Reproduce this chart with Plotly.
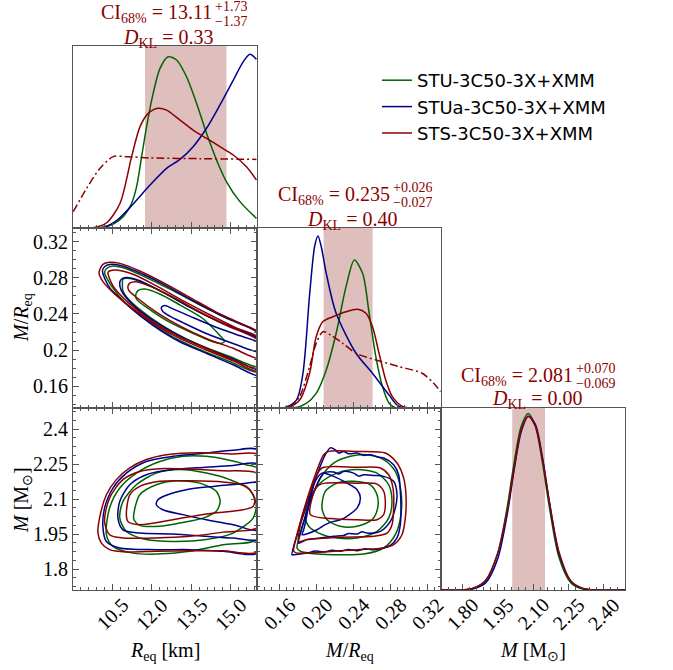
import plotly.graph_objects as go

W, H = 673, 670
SERIF = "Liberation Serif"
SANS = "DejaVu Sans"
C_STU = "#006400"
C_STUA = "#00008b"
C_STS = "#8b0000"
BAND = "#dfbebe"
AXC = "#555555"

NAMES = ["STU-3C50-3X+XMM", "STUa-3C50-3X+XMM", "STS-3C50-3X+XMM"]

# axis ranges and ticks
R_RANGE = [9.0, 16.0]
MR_RANGE = [0.136, 0.335]
M_RANGE = [1.71, 2.49]
R_TICKS = [10.5, 12.0, 13.5, 15.0]
R_TICKTEXT = ["10.5", "12.0", "13.5", "15.0"]
MR_TICKS = [0.16, 0.20, 0.24, 0.28, 0.32]
MR_TICKTEXT = ["0.16", "0.20", "0.24", "0.28", "0.32"]
MR_YTICKTEXT = ["0.16", "0.2", "0.24", "0.28", "0.32"]
M_TICKS = [1.80, 1.95, 2.10, 2.25, 2.40]
M_TICKTEXT = ["1.80", "1.95", "2.10", "2.25", "2.40"]
M_YTICKTEXT = ["1.8", "1.95", "2.1", "2.25", "2.4"]

# credible intervals (median, +, -) and KL divergences
CI_R = (13.11, 1.73, 1.37)
CI_MR = (0.235, 0.026, 0.027)
CI_M = (2.081, 0.070, 0.069)
DKL = [0.33, 0.40, 0.00]

# ---- 1D marginal: R_eq ----
R_STU_X = [9.0, 10.03, 10.53, 10.91, 11.23, 11.42, 11.61, 11.80, 12.05, 12.31, 12.62, 12.94, 13.32, 13.70, 14.08, 14.46, 14.84, 15.35, 15.98]
R_STU_Y = [0.0, 0.002, 0.022, 0.062, 0.136, 0.227, 0.392, 0.557, 0.740, 0.877, 0.941, 0.923, 0.831, 0.685, 0.520, 0.374, 0.254, 0.145, 0.053]
R_STUA_X = [9.0, 10.15, 10.66, 11.29, 11.93, 12.56, 13.07, 13.57, 14.08, 14.59, 15.10, 15.48, 15.73, 15.98]
R_STUA_Y = [0.0, 0.002, 0.040, 0.132, 0.236, 0.328, 0.377, 0.447, 0.548, 0.676, 0.813, 0.914, 0.954, 0.927]
R_STS_X = [9.0, 9.77, 10.28, 10.79, 11.23, 11.55, 11.86, 12.24, 12.56, 13.07, 13.57, 14.08, 14.59, 15.10, 15.60, 15.98]
R_STS_Y = [0.0, 0.002, 0.029, 0.136, 0.392, 0.557, 0.630, 0.658, 0.648, 0.593, 0.538, 0.493, 0.447, 0.401, 0.337, 0.264]
R_PRIOR_X = [9.01, 9.52, 10.03, 10.53, 11.04, 11.93, 13.83, 15.98]
R_PRIOR_Y = [0.090, 0.218, 0.328, 0.392, 0.392, 0.385, 0.381, 0.377]

# ---- 1D marginal: M/R_eq ----
MR_STU_X = [0.136, 0.175, 0.1893, 0.200, 0.2109, 0.2216, 0.2323, 0.2413, 0.2502, 0.2573, 0.2645, 0.2717, 0.2789, 0.286, 0.335]
MR_STU_Y = [0.0, 0.0, 0.026, 0.081, 0.211, 0.415, 0.674, 0.822, 0.748, 0.526, 0.285, 0.119, 0.026, 0.0, 0.0]
MR_STUA_X = [0.136, 0.1643, 0.1786, 0.1857, 0.1929, 0.1983, 0.2019, 0.2055, 0.2109, 0.2216, 0.2431, 0.2609, 0.2789, 0.2896, 0.335]
MR_STUA_Y = [0.0, 0.0, 0.044, 0.193, 0.630, 0.896, 0.956, 0.896, 0.748, 0.526, 0.304, 0.193, 0.072, 0.009, 0.0]
MR_STS_X = [0.136, 0.1679, 0.1821, 0.1929, 0.200, 0.2073, 0.218, 0.2323, 0.2448, 0.2538, 0.2609, 0.268, 0.2752, 0.2824, 0.2932, 0.3003, 0.335]
MR_STS_Y = [0.0, 0.0, 0.044, 0.193, 0.396, 0.480, 0.507, 0.535, 0.548, 0.526, 0.452, 0.304, 0.156, 0.063, 0.009, 0.0, 0.0]
MR_PRIOR_X = [0.1714, 0.1821, 0.1929, 0.200, 0.2073, 0.2162, 0.2288, 0.2431, 0.2645, 0.2896, 0.3146, 0.3271, 0.3344]
MR_PRIOR_Y = [0.0, 0.063, 0.230, 0.359, 0.424, 0.404, 0.359, 0.304, 0.267, 0.230, 0.193, 0.137, 0.091]

# ---- 1D marginal: M ----
M_X = [1.71, 1.80, 1.85, 1.90, 1.95, 1.99, 2.02, 2.05, 2.08, 2.11, 2.14, 2.17, 2.21, 2.26, 2.31, 2.36, 2.49]
M_STU_Y = [0.0, 0.0, 0.010, 0.050, 0.200, 0.450, 0.700, 0.900, 0.970, 0.900, 0.700, 0.450, 0.180, 0.040, 0.005, 0.0, 0.0]
M_STUA_Y = [0.0, 0.0, 0.008, 0.040, 0.170, 0.410, 0.660, 0.870, 0.955, 0.910, 0.730, 0.480, 0.200, 0.050, 0.008, 0.0, 0.0]
M_STS_Y = [0.0, 0.0, 0.012, 0.055, 0.200, 0.430, 0.670, 0.880, 0.955, 0.900, 0.720, 0.480, 0.210, 0.050, 0.010, 0.0, 0.0]

# ---- 2D contours: R_eq vs M/R_eq (three levels each) ----
RMR_STU = [
    ([10.20, 10.27, 10.52, 11.03, 11.79, 12.80, 13.82, 14.83, 16.10, 16.10, 14.96, 13.95, 12.80, 11.92, 11.03, 10.46, 10.20],
     [0.2857, 0.2900, 0.2930, 0.2900, 0.2802, 0.2657, 0.2500, 0.2354, 0.2172, 0.1758, 0.1874, 0.1990, 0.2147, 0.2311, 0.2511, 0.2711, 0.2857]),
    ([10.88, 10.90, 11.16, 11.79, 12.68, 13.69, 14.71, 16.10, 16.10, 14.96, 13.82, 12.80, 11.92, 11.16, 10.90, 10.88],
     [0.2730, 0.2784, 0.2791, 0.2730, 0.2602, 0.2438, 0.2293, 0.2111, 0.1819, 0.1929, 0.2056, 0.2202, 0.2365, 0.2547, 0.2657, 0.2730]),
    ([11.38, 11.47, 11.73, 12.30, 13.06, 13.95, 14.58, 14.77, 14.64, 14.33, 13.44, 12.55, 11.79, 11.43, 11.38],
     [0.2602, 0.2657, 0.2675, 0.2620, 0.2500, 0.2347, 0.2165, 0.2100, 0.2074, 0.2092, 0.2202, 0.2329, 0.2475, 0.2558, 0.2602]),
]
RMR_STUA = [
    ([10.12, 10.20, 10.46, 10.90, 11.66, 12.55, 13.56, 14.58, 15.34, 16.10, 16.10, 15.09, 14.07, 13.06, 12.04, 11.16, 10.39, 10.12],
     [0.2875, 0.2922, 0.2948, 0.2930, 0.2839, 0.2711, 0.2547, 0.2391, 0.2293, 0.2172, 0.1721, 0.1838, 0.1965, 0.2092, 0.2274, 0.2475, 0.2693, 0.2875]),
    ([10.78, 10.84, 11.03, 11.54, 12.42, 13.44, 14.45, 15.34, 16.10, 16.10, 15.09, 14.07, 13.06, 12.04, 11.28, 10.84, 10.78],
     [0.2748, 0.2784, 0.2802, 0.2766, 0.2638, 0.2475, 0.2329, 0.2220, 0.2111, 0.1783, 0.1903, 0.2020, 0.2158, 0.2329, 0.2500, 0.2657, 0.2748]),
    ([12.36, 12.49, 12.80, 13.44, 14.33, 15.21, 16.10, 16.10, 15.09, 14.07, 13.18, 12.68, 12.42, 12.36],
     [0.2471, 0.2493, 0.2456, 0.2376, 0.2267, 0.2172, 0.2074, 0.1983, 0.2074, 0.2183, 0.2304, 0.2376, 0.2427, 0.2471]),
]
RMR_STS = [
    ([9.99, 10.14, 10.39, 10.78, 11.54, 12.42, 13.44, 14.45, 15.34, 16.10, 16.10, 15.09, 14.07, 13.06, 12.17, 11.28, 10.52, 10.12, 9.99],
     [0.2857, 0.2948, 0.2970, 0.2959, 0.2875, 0.2748, 0.2584, 0.2420, 0.2300, 0.2183, 0.1765, 0.1881, 0.2001, 0.2129, 0.2274, 0.2456, 0.2638, 0.2766, 0.2857]),
    ([10.33, 10.39, 10.65, 11.28, 12.17, 13.18, 14.20, 15.21, 16.10, 16.10, 15.09, 14.07, 13.06, 12.04, 11.16, 10.52, 10.33],
     [0.2857, 0.2875, 0.2886, 0.2839, 0.2711, 0.2547, 0.2391, 0.2245, 0.2129, 0.1801, 0.1892, 0.2020, 0.2147, 0.2311, 0.2511, 0.2711, 0.2857]),
    ([11.09, 11.16, 11.41, 12.04, 12.93, 13.95, 14.83, 16.10, 16.10, 15.09, 14.07, 13.06, 12.17, 11.41, 11.13, 11.09],
     [0.2704, 0.2740, 0.2755, 0.2693, 0.2566, 0.2402, 0.2274, 0.2092, 0.1910, 0.2020, 0.2129, 0.2267, 0.2420, 0.2584, 0.2657, 0.2704]),
]

# ---- 2D contours: R_eq vs M ----
RM_STU = [
    ([10.27, 10.39, 10.78, 11.41, 12.30, 13.18, 14.07, 14.83, 15.59, 16.10, 16.10, 14.71, 13.44, 12.17, 11.28, 10.52, 10.27],
     [1.947, 2.061, 2.147, 2.211, 2.261, 2.283, 2.283, 2.269, 2.247, 2.226, 1.933, 1.904, 1.876, 1.864, 1.868, 1.897, 1.947]),
    ([10.78, 10.90, 11.41, 12.17, 13.06, 14.07, 14.96, 15.72, 15.97, 15.85, 15.09, 14.07, 12.80, 11.79, 11.03, 10.78],
     [2.018, 2.090, 2.161, 2.211, 2.226, 2.211, 2.183, 2.140, 2.076, 2.018, 1.954, 1.926, 1.918, 1.926, 1.961, 2.018]),
    ([11.31, 11.54, 12.17, 12.93, 13.82, 14.45, 14.60, 14.45, 13.95, 13.06, 12.30, 11.54, 11.32, 11.31],
     [2.033, 2.118, 2.161, 2.178, 2.168, 2.133, 2.090, 2.047, 2.018, 1.997, 1.983, 1.987, 2.011, 2.033]),
]
RM_STUA = [
    ([10.14, 10.20, 10.52, 11.03, 11.79, 12.80, 14.07, 15.09, 16.10, 16.10, 14.71, 13.44, 12.17, 10.78, 10.27, 10.14],
     [1.976, 2.061, 2.147, 2.211, 2.261, 2.283, 2.297, 2.309, 2.307, 1.873, 1.876, 1.883, 1.883, 1.890, 1.918, 1.976]),
    ([10.71, 10.78, 11.16, 11.79, 12.80, 14.07, 15.09, 16.10, 16.10, 15.09, 14.07, 12.80, 11.54, 10.90, 10.71],
     [2.018, 2.090, 2.161, 2.204, 2.226, 2.236, 2.244, 2.247, 1.930, 1.933, 1.940, 1.950, 1.954, 1.968, 2.018]),
    ([12.17, 12.23, 12.55, 13.31, 14.33, 15.34, 16.10, 16.10, 15.09, 14.07, 13.18, 12.42, 12.17],
     [2.076, 2.097, 2.116, 2.140, 2.154, 2.164, 2.167, 1.968, 1.990, 2.011, 2.033, 2.054, 2.076]),
]
RM_STS = [
    ([9.95, 10.01, 10.27, 10.65, 11.16, 11.79, 12.55, 13.44, 14.33, 15.09, 16.10, 16.10, 14.71, 13.44, 12.17, 11.03, 10.39, 10.08, 9.95],
     [1.954, 2.018, 2.118, 2.183, 2.233, 2.269, 2.290, 2.297, 2.297, 2.293, 2.287, 1.878, 1.878, 1.878, 1.876, 1.873, 1.883, 1.911, 1.954]),
    ([10.20, 10.39, 10.90, 11.54, 12.30, 13.44, 14.71, 16.10, 16.10, 14.71, 13.44, 12.17, 10.90, 10.39, 10.20],
     [2.004, 2.104, 2.183, 2.218, 2.230, 2.228, 2.221, 2.204, 1.983, 1.958, 1.940, 1.933, 1.933, 1.947, 2.004]),
    ([11.03, 11.16, 11.54, 12.30, 13.44, 14.71, 15.59, 15.91, 15.85, 15.47, 14.07, 12.80, 11.54, 11.09, 11.03],
     [2.033, 2.118, 2.154, 2.176, 2.178, 2.173, 2.154, 2.104, 2.068, 2.054, 2.036, 2.011, 1.990, 2.004, 2.033]),
]

# ---- 2D contours: M/R_eq vs M ----
MRM_STU = [
    ([0.1793, 0.1847, 0.1937, 0.2045, 0.2189, 0.2369, 0.2550, 0.2730, 0.2856, 0.2917, 0.2917, 0.2856, 0.2730, 0.2514, 0.2261, 0.2009, 0.1829, 0.1793],
     [1.890, 1.976, 2.090, 2.190, 2.254, 2.283, 2.290, 2.269, 2.218, 2.133, 2.033, 1.947, 1.890, 1.864, 1.861, 1.864, 1.876, 1.890]),
    ([0.1883, 0.1937, 0.2045, 0.2225, 0.2442, 0.2658, 0.2784, 0.2820, 0.2784, 0.2658, 0.2442, 0.2225, 0.2027, 0.1919, 0.1883],
     [2.018, 2.104, 2.168, 2.211, 2.226, 2.211, 2.161, 2.090, 2.018, 1.961, 1.933, 1.933, 1.954, 1.983, 2.018]),
    ([0.2063, 0.2099, 0.2225, 0.2405, 0.2586, 0.2658, 0.2665, 0.2604, 0.2442, 0.2261, 0.2117, 0.2070, 0.2063],
     [2.076, 2.133, 2.168, 2.176, 2.161, 2.118, 2.061, 2.011, 1.983, 1.983, 2.011, 2.047, 2.076]),
]
MRM_STUA = [
    ([0.1739, 0.1793, 0.1901, 0.2009, 0.2099, 0.2153, 0.2207, 0.2243, 0.2297, 0.2351, 0.2442, 0.2514, 0.2586, 0.2658, 0.2730, 0.2838, 0.2892, 0.2910, 0.2917, 0.2910, 0.2874, 0.2802, 0.2622, 0.2532, 0.2442, 0.2351, 0.2261, 0.2171, 0.2081, 0.1991, 0.1901, 0.1757, 0.1739],
     [1.861, 1.947, 2.076, 2.204, 2.290, 2.319, 2.311, 2.297, 2.304, 2.294, 2.297, 2.287, 2.290, 2.281, 2.276, 2.247, 2.204, 2.133, 2.061, 1.990, 1.933, 1.901, 1.883, 1.887, 1.878, 1.884, 1.876, 1.880, 1.873, 1.877, 1.868, 1.861, 1.861]),
    ([0.1811, 0.1901, 0.2009, 0.2081, 0.2189, 0.2243, 0.2297, 0.2405, 0.2460, 0.2514, 0.2622, 0.2730, 0.2838, 0.2874, 0.2856, 0.2802, 0.2694, 0.2550, 0.2496, 0.2442, 0.2351, 0.2297, 0.2189, 0.2045, 0.1901, 0.1811],
     [1.911, 2.047, 2.161, 2.211, 2.216, 2.207, 2.218, 2.211, 2.198, 2.204, 2.201, 2.197, 2.176, 2.118, 2.061, 2.004, 1.961, 1.954, 1.960, 1.950, 1.952, 1.944, 1.940, 1.933, 1.926, 1.911]),
    ([0.2478, 0.2442, 0.2333, 0.2189, 0.2063, 0.1991, 0.1937, 0.1901, 0.1865, 0.1847, 0.2009, 0.2099, 0.2189, 0.2261, 0.2333, 0.2442, 0.2478],
     [2.104, 2.140, 2.168, 2.197, 2.211, 2.176, 2.104, 2.033, 1.968, 1.947, 1.968, 1.990, 2.004, 2.011, 2.026, 2.061, 2.104]),
]
MRM_STS = [
    ([0.1757, 0.1793, 0.1883, 0.1991, 0.2081, 0.2135, 0.2442, 0.2748, 0.2874, 0.2946, 0.2971, 0.2964, 0.2928, 0.2838, 0.2730, 0.2442, 0.2081, 0.1793, 0.1757],
     [1.876, 1.947, 2.076, 2.204, 2.290, 2.304, 2.304, 2.297, 2.254, 2.190, 2.118, 2.018, 1.947, 1.904, 1.890, 1.883, 1.873, 1.868, 1.876]),
    ([0.1811, 0.1829, 0.1901, 0.1991, 0.2063, 0.2442, 0.2694, 0.2784, 0.2831, 0.2838, 0.2820, 0.2766, 0.2622, 0.2261, 0.1901, 0.1811],
     [1.918, 1.990, 2.090, 2.190, 2.233, 2.236, 2.233, 2.204, 2.147, 2.061, 1.990, 1.954, 1.940, 1.936, 1.926, 1.918]),
    ([0.1937, 0.1955, 0.2009, 0.2099, 0.2442, 0.2658, 0.2730, 0.2748, 0.2730, 0.2658, 0.2442, 0.2153, 0.1937],
     [2.033, 2.104, 2.154, 2.168, 2.168, 2.164, 2.133, 2.076, 2.033, 2.011, 2.011, 2.016, 2.033]),
]


def px(x):
    return x / W


def py(y):
    return 1 - y / H


COLS = [[px(73), px(257)], [px(257), px(441)], [px(441), px(625)]]
ROWS = [[py(228), py(46)], [py(408), py(228)], [py(590), py(408)]]

fig = go.Figure()
LW = 1.5


def line(xs, ys, color, xa, ya, name=None, show=False, dash="solid"):
    fig.add_trace(go.Scatter(
        x=xs, y=ys, mode="lines", xaxis=xa, yaxis=ya,
        line=dict(color=color, width=LW, dash=dash, shape="spline", smoothing=0.8),
        name=name if name else "", showlegend=show, hoverinfo="skip"))


# 1D panels
line(R_STU_X, R_STU_Y, C_STU, "x", "y", NAMES[0], True)
line(R_STUA_X, R_STUA_Y, C_STUA, "x", "y", NAMES[1], True)
line(R_STS_X, R_STS_Y, C_STS, "x", "y", NAMES[2], True)
line(R_PRIOR_X, R_PRIOR_Y, C_STS, "x", "y", dash="8px,3px,2px,3px")

line(MR_STU_X, MR_STU_Y, C_STU, "x3", "y3")
line(MR_STUA_X, MR_STUA_Y, C_STUA, "x3", "y3")
line(MR_STS_X, MR_STS_Y, C_STS, "x3", "y3")
line(MR_PRIOR_X, MR_PRIOR_Y, C_STS, "x3", "y3", dash="8px,3px,2px,3px")

line(M_X, M_STU_Y, C_STU, "x6", "y6")
line(M_X, M_STUA_Y, C_STUA, "x6", "y6")
line(M_X, M_STS_Y, C_STS, "x6", "y6")

# 2D panels
for sets, xa, ya in [((RMR_STU, RMR_STUA, RMR_STS), "x2", "y2"),
                     ((RM_STU, RM_STUA, RM_STS), "x4", "y4"),
                     ((MRM_STU, MRM_STUA, MRM_STS), "x5", "y5")]:
    for levels, col in zip(sets, [C_STU, C_STUA, C_STS]):
        for xs, ys in levels:
            line(xs, ys, col, xa, ya)

# credible-interval bands
shapes = []
for ci, xa, ya in [(CI_R, "x", "y"), (CI_MR, "x3", "y3"), (CI_M, "x6", "y6")]:
    shapes.append(dict(type="rect", xref=xa, yref=ya + " domain", x0=ci[0] - ci[2], x1=ci[0] + ci[1],
                       y0=0, y1=1, fillcolor=BAND, line=dict(width=0), layer="below"))


def axis(dom, rng, anchor, tickvals=None, minor_dt=None, labels=None, mirror="allticks"):
    d = dict(domain=dom, range=rng, anchor=anchor, showline=True, linecolor=AXC, linewidth=1,
             mirror=mirror, showgrid=False, zeroline=False, fixedrange=True)
    if tickvals is not None:
        d.update(tickmode="array", tickvals=tickvals, ticks="inside", ticklen=6, tickcolor=AXC, tickwidth=1,
                 minor=dict(tickmode="linear", tick0=tickvals[0], dtick=minor_dt, ticks="inside",
                            ticklen=3, tickcolor=AXC, showgrid=False))
        if labels is not None:
            d.update(ticktext=labels, showticklabels=True,
                     tickfont=dict(family=SERIF, size=20, color="black"))
        else:
            d.update(showticklabels=False)
    else:
        d.update(ticks="", showticklabels=False)
    return d


layout_axes = dict(
    xaxis=axis(COLS[0], R_RANGE, "y", R_TICKS, 0.3, mirror=True),
    yaxis=axis(ROWS[0], [0, 1], "x", mirror=True),
    xaxis2=axis(COLS[0], R_RANGE, "y2", R_TICKS, 0.3),
    yaxis2=axis(ROWS[1], MR_RANGE, "x2", MR_TICKS, 0.01, MR_YTICKTEXT),
    xaxis3=axis(COLS[1], MR_RANGE, "y3", MR_TICKS, 0.008, mirror=True),
    yaxis3=axis(ROWS[1], [0, 1], "x3", mirror=True),
    xaxis4=axis(COLS[0], R_RANGE, "y4", R_TICKS, 0.3),
    yaxis4=axis(ROWS[2], M_RANGE, "x4", M_TICKS, 0.0375, M_YTICKTEXT),
    xaxis5=axis(COLS[1], MR_RANGE, "y5", MR_TICKS, 0.008),
    yaxis5=axis(ROWS[2], M_RANGE, "x5", M_TICKS, 0.0375),
    xaxis6=axis(COLS[2], M_RANGE, "y6", M_TICKS, 0.03, mirror=True),
    yaxis6=axis(ROWS[2], [0, 1], "x6", mirror=True),
)

ann = []
TXT = dict(family=SERIF, size=20, color="black")
RED_TXT = dict(family=SERIF, size=20, color=C_STS)
RED_SMALL = dict(family=SERIF, size=14, color=C_STS)

# rotated x tick labels (centred on ticks)
for ticks, texts, xa in [(R_TICKS, R_TICKTEXT, "x4"), (MR_TICKS, MR_TICKTEXT, "x5"), (M_TICKS, M_TICKTEXT, "x6")]:
    for v, t in zip(ticks, texts):
        ann.append(dict(x=v, xref=xa, y=py(614), yref="paper", text=t, textangle=-45, showarrow=False,
                        font=TXT, xanchor="center", yanchor="middle"))

# axis titles
titles = [
    dict(x=px(165), y=py(651), text="<i>R</i><sub>eq</sub> [km]"),
    dict(x=px(349), y=py(651), text="<i>M</i>/<i>R</i><sub>eq</sub>"),
    dict(x=px(533), y=py(651), text="<i>M</i> [M<sub>⊙</sub>]"),
    dict(x=px(22), y=py(318), text="<i>M</i>/<i>R</i><sub>eq</sub>", textangle=-90),
    dict(x=px(22), y=py(500), text="<i>M</i> [M<sub>⊙</sub>]", textangle=-90),
]
for a in titles:
    a.update(xref="paper", yref="paper", showarrow=False, font=TXT, xanchor="center", yanchor="middle")
ann += titles

# panel titles
fmts = ["{:.2f}", "{:.3f}", "{:.3f}"]
title_pos = [  # main right edge x, main y, line2 centre x, line2 y
    (214, 14, 168, 38),
    (392, 195, 352, 220),
    (575, 376, 537, 399),
]
for ci, dkl, f, (xr, ym, xc, y2) in zip([CI_R, CI_MR, CI_M], DKL, fmts, title_pos):
    ann.append(dict(x=px(xr), y=py(ym), xref="paper", yref="paper", showarrow=False, xanchor="right",
                    yanchor="middle", font=RED_TXT, text="CI<sub>68%</sub> = " + f.format(ci[0])))
    ann.append(dict(x=px(xr), y=py(ym - 8), xref="paper", yref="paper", showarrow=False, xanchor="left",
                    yanchor="middle", font=RED_SMALL, height=12, borderpad=0, text="+" + f.format(ci[1])))
    ann.append(dict(x=px(xr), y=py(ym + 7), xref="paper", yref="paper", showarrow=False, xanchor="left",
                    yanchor="middle", font=RED_SMALL, height=12, borderpad=0, text="−" + f.format(ci[2])))
    ann.append(dict(x=px(xc), y=py(y2), xref="paper", yref="paper", showarrow=False, xanchor="center",
                    yanchor="middle", font=RED_TXT, text="<i>D</i><sub>KL</sub> = {:.2f}".format(dkl)))

fig.update_layout(
    width=W, height=H, margin=dict(l=0, r=0, t=0, b=0),
    plot_bgcolor="white", paper_bgcolor="white",
    shapes=shapes, annotations=ann,
    showlegend=True,
    legend=dict(x=px(377), y=py(62), xanchor="left", yanchor="top", bgcolor="rgba(0,0,0,0)",
                font=dict(family=SANS, size=18, color="black"), tracegroupgap=0),
    **layout_axes,
)

fig.write_html("out.html", config={"displayModeBar": False},
               post_script="document.body.style.margin='0px';")
